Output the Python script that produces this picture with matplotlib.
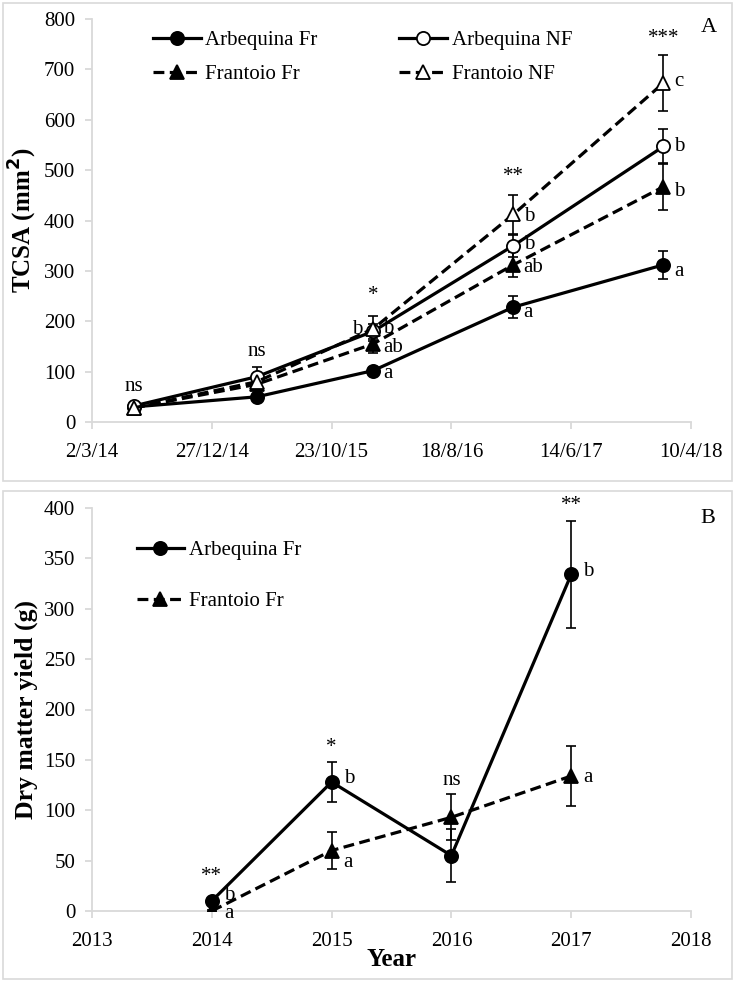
"""
TCSA 与干物质产量图
"""
import matplotlib
matplotlib.use('Agg')
import matplotlib.pyplot as plt
import matplotlib.dates as mdates
from matplotlib.patches import Rectangle
from datetime import date, timedelta

plt.rcParams['font.family'] = ['Liberation Serif', 'DejaVu Serif']

# ---- 数据 (A: TCSA) ----
dates_a = [date(2014, 6, 15), date(2015, 4, 19), date(2016, 2, 4),
           date(2017, 1, 20), date(2018, 1, 31)]
arb_fr = [30, 50, 102, 228, 312]
arb_fr_err = [5, 6, 8, 22, 28]
arb_nf = [32, 90, 180, 350, 547]
arb_nf_err = [6, 20, 15, 22, 35]
fra_fr = [28, 75, 155, 312, 467]
fra_fr_err = [5, 10, 18, 25, 47]
fra_nf = [28, 80, 185, 412, 673]
fra_nf_err = [5, 12, 25, 38, 55]
tick_start = date(2014, 3, 2)
tick_step = 300

# 显著性与字母标注 (x索引, y值, 文本)
sig_a = [(0, 70, 'ns'), (1, 139, 'ns'), (2, 252, '*'), (3, 487, '**'), (4, 762, '***')]
letters_a = [
    (2, 183, 'b', 'left'), (2, 185, 'b', 'right'), (2, 148, 'ab', 'right'), (2, 96, 'a', 'right'),
    (3, 408, 'b', 'right'), (3, 352, 'b', 'right'), (3, 306, 'ab', 'right'), (3, 218, 'a', 'right'),
    (4, 676, 'c', 'right'), (4, 546, 'b', 'right'), (4, 457, 'b', 'right'), (4, 298, 'a', 'right'),
]

# ---- 数据 (B: 干物质产量) ----
years_b = [2014, 2015, 2016, 2017]
yield_arb = [10, 128, 55, 334]
yield_arb_err = [3, 20, 26, 53]
yield_fra = [0, 60, 93, 134]
yield_fra_err = [1, 18, 23, 30]
sig_b = [(2014, 34, '**'), (2015, 162, '*'), (2016, 130, 'ns'), (2017, 402, '**')]
letters_b = [(2014, 15, 'b'), (2014, -2, 'a'), (2015, 132, 'b'), (2015, 48, 'a'),
             (2017, 337, 'b'), (2017, 133, 'a')]

W, H = 735, 982
fig = plt.figure(figsize=(W / 100, H / 100), dpi=100)

# 面板外框
for (x0, y0, x1, y1) in [(3, 3, 732, 481), (3, 491, 732, 979)]:
    fig.patches.append(Rectangle((x0 / W, 1 - y1 / H), (x1 - x0) / W, (y1 - y0) / H,
                                 transform=fig.transFigure, fill=False,
                                 edgecolor='#d9d9d9', lw=1.2))

ax1 = fig.add_axes([92 / W, 1 - 422 / H, 599 / W, 403 / H])
ax2 = fig.add_axes([92 / W, 1 - 911 / H, 599 / W, 403 / H])

FS = 15
gray = '#d9d9d9'


def style_axes(ax):
    for s in ['top', 'right']:
        ax.spines[s].set_visible(False)
    for s in ['left', 'bottom']:
        ax.spines[s].set_color(gray)
        ax.spines[s].set_linewidth(1.3)
    ax.tick_params(axis='both', color=gray, width=1.3, length=5, labelsize=FS)
    ax.tick_params(axis='x', pad=10)
    ax.tick_params(axis='y', pad=7)


def series(ax, x, y, err, ls, marker, face, label):
    ax.errorbar(x, y, yerr=err, fmt='none', ecolor='black', elinewidth=1.2,
                capsize=3.5, capthick=1.2, zorder=3)
    ax.plot(x, y, color='black', ls=ls, lw=2.3, marker=marker, ms=9.5,
            markerfacecolor=face, markeredgecolor='black', markeredgewidth=1.3,
            dashes=(3.4, 1.7) if ls == '--' else (None, None), label=label, zorder=4)


# ---- 面板 A ----
xa = [mdates.date2num(d) for d in dates_a]
series(ax1, xa, arb_fr, arb_fr_err, '-', 'o', 'black', 'Arbequina Fr')
series(ax1, xa, fra_fr, fra_fr_err, '--', '^', 'black', 'Frantoio Fr')
series(ax1, xa, arb_nf, arb_nf_err, '-', 'o', 'white', 'Arbequina NF')
series(ax1, xa, fra_nf, fra_nf_err, '--', '^', 'white', 'Frantoio NF')

tick_dates = [tick_start + timedelta(days=tick_step * k) for k in range(6)]
ticks = [mdates.date2num(d) for d in tick_dates]
ax1.set_xticks(ticks)
ax1.set_xticklabels([f"{d.day}/{d.month}/{d.strftime('%y')}" for d in tick_dates])
ax1.set_xlim(ticks[0], ticks[-1])
ax1.set_ylim(0, 800)
ax1.set_yticks(range(0, 801, 100))
style_axes(ax1)
ax1.set_ylabel('TCSA (mm$^\\mathbf{2}$)', fontsize=18, fontweight='bold', labelpad=4)

for i, yv, t in sig_a:
    ax1.text(xa[i], yv, t, ha='center', va='center', fontsize=FS)
for i, yv, t, side in letters_a:
    if side == 'right':
        ax1.text(xa[i] + 26, yv, t, ha='left', va='center', fontsize=FS)
    else:
        ax1.text(xa[i] - 26, yv, t, ha='right', va='center', fontsize=FS)
ax1.text(1.03, 0.98, 'A', transform=ax1.transAxes, fontsize=FS + 1, ha='center', va='center')

ax1.legend(loc='upper left', bbox_to_anchor=(0.07, 1.018), ncol=2, frameon=False,
           fontsize=FS, handlelength=2.3, handletextpad=0.2, columnspacing=3.95,
           labelspacing=0.7)

# ---- 面板 B ----
series(ax2, years_b, yield_arb, yield_arb_err, '-', 'o', 'black', 'Arbequina Fr')
series(ax2, years_b, yield_fra, yield_fra_err, '--', '^', 'black', 'Frantoio Fr')
ax2.set_xlim(2013, 2018)
ax2.set_xticks(range(2013, 2019))
ax2.set_ylim(0, 400)
ax2.set_yticks(range(0, 401, 50))
style_axes(ax2)
ax2.set_ylabel('Dry matter yield (g)', fontsize=18.5, fontweight='bold', labelpad=4)
ax2.set_xlabel('Year', fontsize=18, fontweight='bold', labelpad=-2)

for xv, yv, t in sig_b:
    ax2.text(xv, yv, t, ha='center', va='center', fontsize=FS)
for xv, yv, t in letters_b:
    ax2.text(xv + 0.1, yv, t, ha='left', va='center', fontsize=FS)
ax2.text(1.028, 0.975, 'B', transform=ax2.transAxes, fontsize=FS + 1, ha='center', va='center')

ax2.legend(loc='upper left', bbox_to_anchor=(0.043, 0.965), frameon=False, fontsize=FS,
           handlelength=2.3, handletextpad=0.2, labelspacing=1.5)

plt.savefig('out.png', dpi=100)
plt.close()
